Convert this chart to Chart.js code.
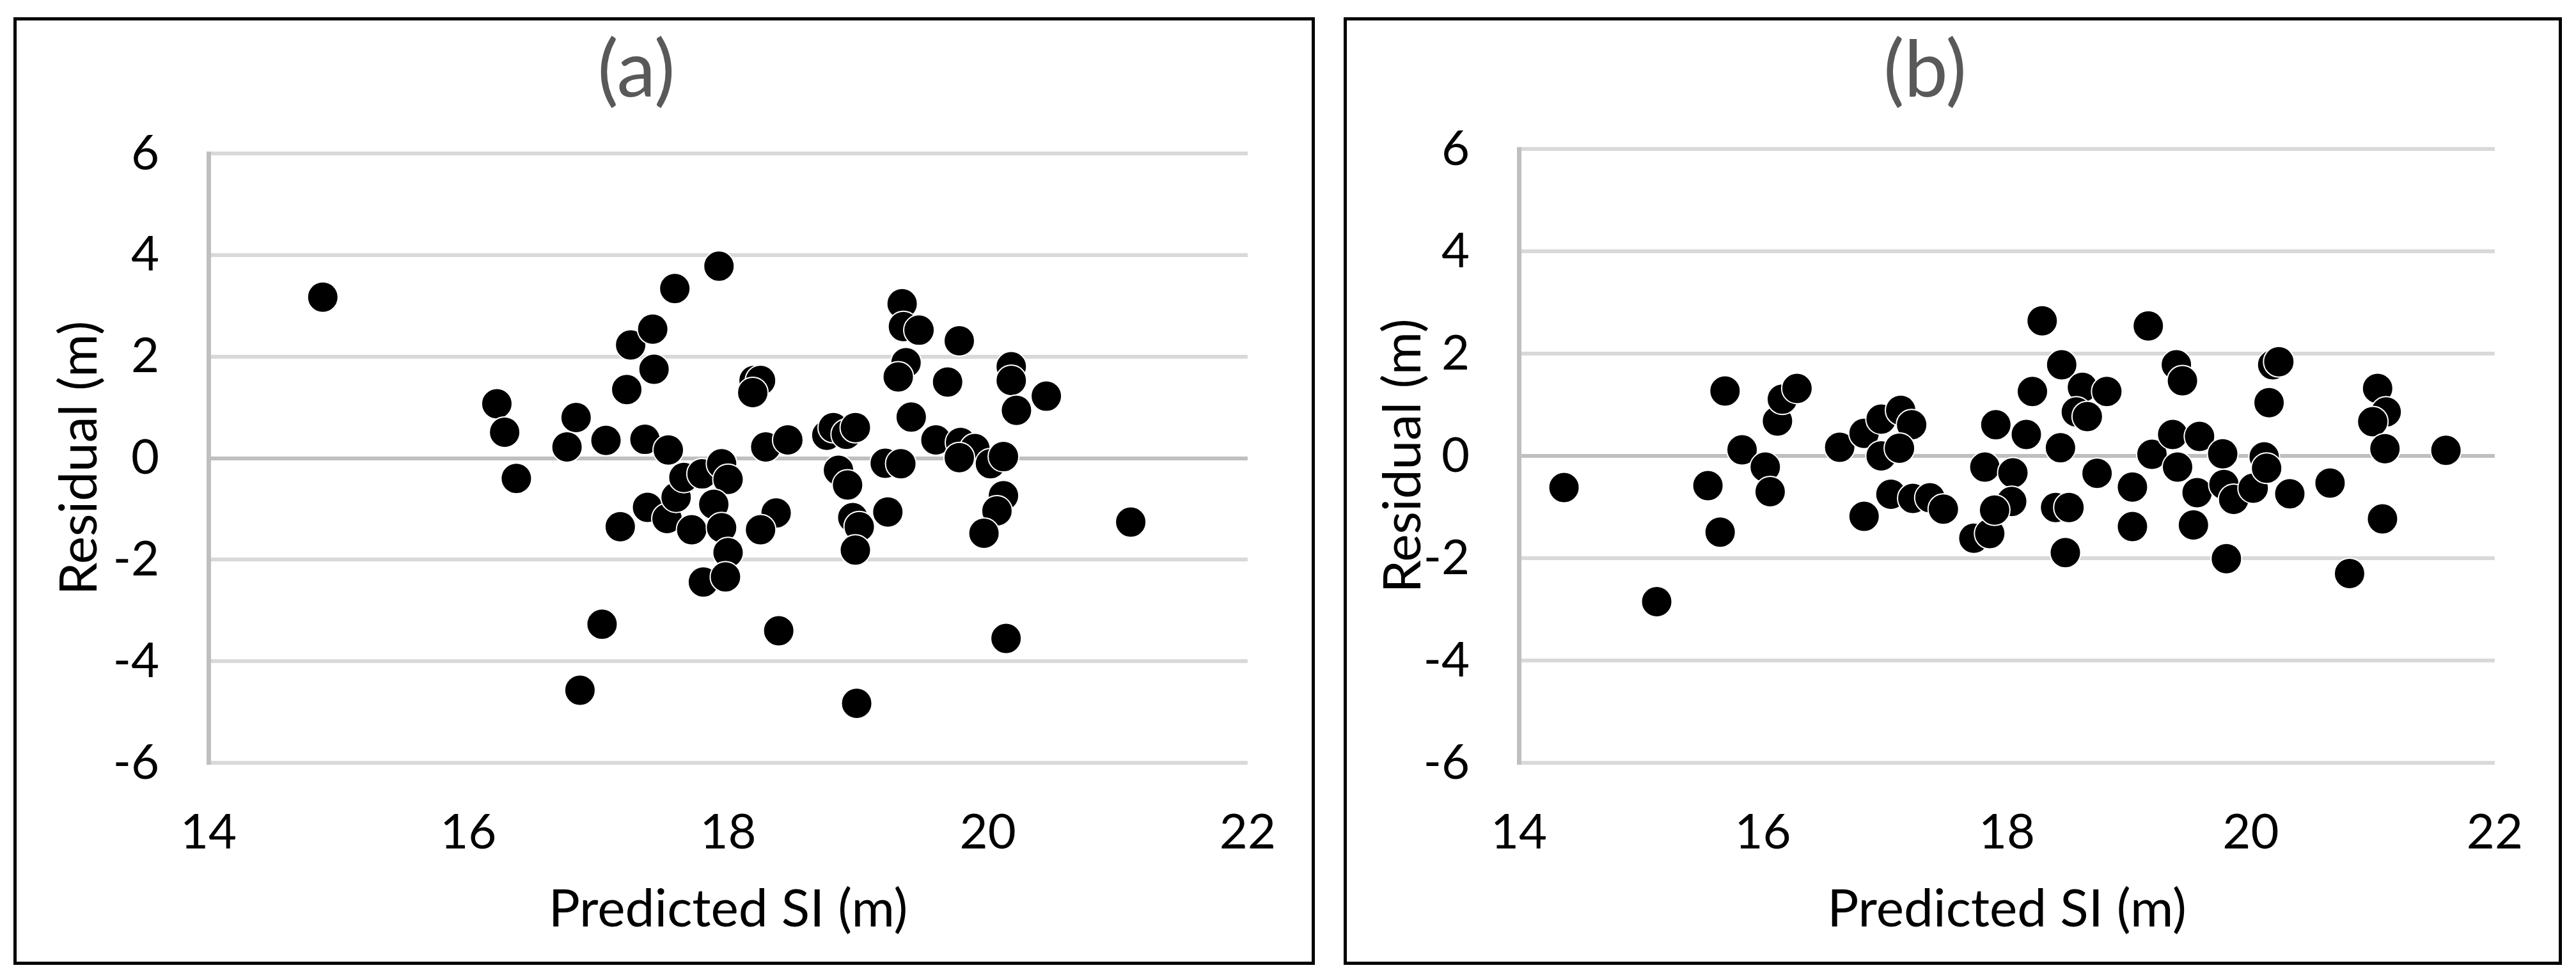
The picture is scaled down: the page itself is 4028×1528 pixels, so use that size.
<!DOCTYPE html>
<html>
<head>
<meta charset="utf-8">
<title>Residual vs predicted SI</title>
<script src="https://cdn.jsdelivr.net/npm/chart.js@4.4.0/dist/chart.umd.min.js"></script>
<style>
  html, body { margin: 0; padding: 0; background: #fff; }
  body { width: 4028px; height: 1528px; position: relative; overflow: hidden; }
  .panel { position: absolute; top: 27px; height: 1472px; border: 5px solid #000; }
  #boxA { left: 21px; width: 2025px; }
  #boxB { left: 2101px; width: 1895px; }
  canvas { display: block; }
</style>
</head>
<body>
<div class="panel" id="boxA"><canvas id="chartA" width="2025" height="1472"></canvas></div>
<div class="panel" id="boxB"><canvas id="chartB" width="1895" height="1472"></canvas></div>
<script>
// tick values
const xTicks = [14, 16, 18, 20, 22];
const yTicks = [-6, -4, -2, 0, 2, 4, 6];

// (a)
const predictedA = [14.88, 16.22, 16.28, 16.37, 16.83, 16.76, 17.06, 17.22, 17.25, 17.42,
  17.43, 17.59, 17.93, 17.36, 17.54, 17.17, 17.03, 16.86, 17.38, 17.53,
  17.60, 17.66, 17.80, 17.72, 17.95, 18.00, 17.89, 17.95, 18.00, 17.81,
  17.98, 19.34, 19.35, 19.47, 19.78, 19.37, 19.31, 19.69, 20.18, 20.18,
  20.45, 20.22, 19.41, 18.20, 18.25, 18.19, 18.29, 18.46, 18.76, 18.81,
  18.91, 18.98, 19.60, 19.79, 19.90, 19.78, 20.02, 20.12, 19.21, 19.33,
  18.85, 18.92, 18.37, 18.25, 18.96, 19.01, 18.98, 19.23, 20.12, 20.07,
  19.97, 21.10, 18.39, 20.14, 18.99];
const residualA = [3.17, 1.07, 0.51, -0.40, 0.80, 0.22, 0.35, 1.35, 2.23, 2.54,
  1.75, 3.34, 3.78, 0.37, 0.16, -1.35, -3.27, -4.57, -0.97, -1.19,
  -0.77, -0.38, -0.31, -1.41, -0.11, -0.42, -0.91, -1.37, -1.86, -2.44,
  -2.34, 3.04, 2.59, 2.52, 2.31, 1.88, 1.60, 1.50, 1.80, 1.53,
  1.22, 0.94, 0.81, 1.53, 1.53, 1.29, 0.22, 0.36, 0.45, 0.60,
  0.47, 0.60, 0.36, 0.31, 0.19, 0.01, -0.11, 0.03, -0.10, -0.11,
  -0.24, -0.53, -1.08, -1.41, -1.17, -1.35, -1.81, -1.06, -0.74, -1.04,
  -1.48, -1.26, -3.40, -3.55, -4.83];

// (b)
const predictedB = [14.37, 15.13, 15.55, 15.65, 15.69, 15.83, 16.02, 16.06, 16.12, 16.16,
  16.28, 16.63, 16.83, 16.83, 16.97, 17.13, 17.22, 16.97, 17.12, 17.05,
  17.23, 17.37, 17.48, 17.73, 17.86, 17.91, 17.82, 18.05, 18.04, 17.90,
  18.29, 18.45, 18.21, 18.62, 18.82, 18.57, 18.66, 18.16, 18.44, 18.74,
  18.40, 18.51, 18.48, 19.16, 19.39, 19.44, 19.19, 19.36, 19.58, 19.40,
  19.77, 19.56, 19.78, 19.86, 20.02, 20.11, 20.13, 19.03, 19.03, 19.53,
  19.80, 20.32, 20.15, 20.18, 20.23, 20.65, 20.81, 21.04, 21.11, 21.00,
  21.10, 21.08, 21.60];
const residualB = [-0.62, -2.85, -0.58, -1.49, 1.27, 0.12, -0.22, -0.70, 0.68, 1.11,
  1.32, 0.17, -1.18, 0.44, 0.72, 0.89, 0.61, 0.00, 0.15, -0.75,
  -0.83, -0.82, -1.04, -1.61, -1.52, 0.61, -0.22, -0.33, -0.89, -1.06,
  2.64, 1.78, 1.26, 1.34, 1.26, 0.86, 0.77, 0.42, 0.16, -0.34,
  -1.01, -1.01, -1.89, 2.54, 1.78, 1.47, 0.03, 0.42, 0.38, -0.22,
  0.04, -0.72, -0.56, -0.85, -0.63, -0.02, -0.24, -0.61, -1.38, -1.35,
  -2.01, -0.74, 1.04, 1.78, 1.84, -0.53, -2.30, 1.32, 0.86, 0.67,
  0.14, -1.23, 0.11];

const font = 'Lato';

function toPoints(xs, ys) {
  return xs.map((x, i) => ({ x: x, y: ys[i] }));
}

function drawPanel(id, label, xs, ys, yAxisWidth, yTitlePad, titleGap) {
  const ctx = document.getElementById(id).getContext('2d');
  return new Chart(ctx, {
    type: 'scatter',
    data: {
      datasets: [{
        data: toPoints(xs, ys),
        backgroundColor: '#000',
        borderColor: '#fff',
        borderWidth: 2,
        pointRadius: 24,
        pointHoverRadius: 24
      }]
    },
    options: {
      responsive: false,
      animation: false,
      events: [],
      layout: { padding: { top: 0, left: 0, right: 87, bottom: 0 } },
      plugins: {
        legend: { display: false },
        tooltip: { enabled: false },
        title: {
          display: true,
          text: label,
          color: '#595959',
          font: { family: font, size: 122, weight: 'normal', lineHeight: 1 },
          padding: { top: 19, bottom: titleGap }
        }
      },
      scales: {
        x: {
          type: 'linear',
          min: 14,
          max: 22,
          afterBuildTicks: s => { s.ticks = xTicks.map(v => ({ value: v })); },
          afterFit: s => { s.height = 311; },
          grid: { display: false },
          border: { display: false },
          ticks: { color: '#000', font: { family: font, size: 76 }, padding: 56, maxRotation: 0 },
          title: {
            display: true,
            text: 'Predicted SI (m)',
            color: '#000',
            font: { family: font, size: 82 },
            padding: { top: 0, bottom: 32 }
          }
        },
        y: {
          type: 'linear',
          min: -6,
          max: 6,
          afterBuildTicks: s => { s.ticks = yTicks.map(v => ({ value: v })); },
          afterFit: s => { s.width = yAxisWidth; },
          grid: {
            color: c => (c.tick && c.tick.value === 0) ? '#bfbfbf' : '#d9d9d9',
            lineWidth: 6,
            drawTicks: false
          },
          border: { display: true, color: '#bfbfbf', width: 7 },
          ticks: { color: '#000', font: { family: font, size: 76 }, padding: 77 },
          title: {
            display: true,
            text: 'Residual (m)',
            color: '#000',
            font: { family: font, size: 82 },
            padding: { top: yTitlePad, bottom: 0 }
          }
        }
      }
    }
  });
}

drawPanel('chartA', '(a)', predictedA, residualA, 300, 49, 67);
drawPanel('chartB', '(b)', predictedB, residualB, 269, 39, 60);
</script>
</body>
</html>
